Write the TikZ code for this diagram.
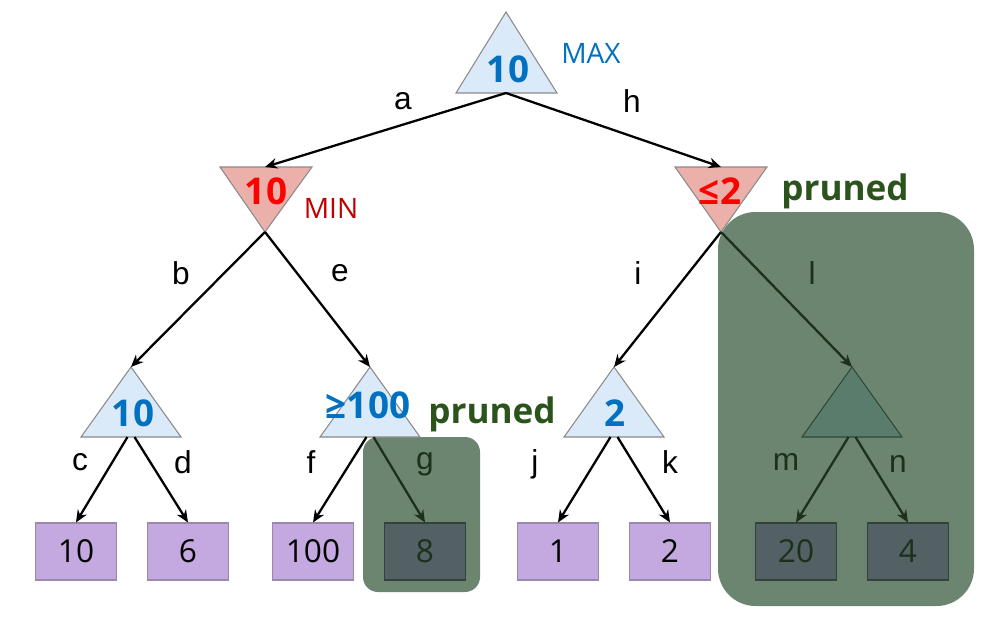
\documentclass[tikz,border=0pt]{standalone}
\usepackage{fontspec}
\setmainfont{Liberation Sans}
\newfontfamily\valfont{Open Sans}
\usepackage{xcolor}
\usetikzlibrary{arrows.meta}

\definecolor{maxfill}{HTML}{DBEAF9}
\definecolor{minfill}{HTML}{EBB0AA}
\definecolor{trigray}{HTML}{8A8A8A}
\definecolor{valblue}{HTML}{0070C0}
\definecolor{valred}{HTML}{FF0000}
\definecolor{mindark}{HTML}{C00000}
\definecolor{leaffill}{HTML}{C4A8E0}
\definecolor{leafgray}{HTML}{9A8AAA}
\definecolor{prunefill}{HTML}{6B8570}
\definecolor{prunetri}{HTML}{5A7C6C}
\definecolor{pruneleaf}{HTML}{536064}
\definecolor{prunedark}{HTML}{1C301C}
\definecolor{prunetext}{HTML}{2B531C}

\tikzset{
  maxtri/.style={draw=trigray, fill=maxfill, line width=0.6pt},
  mintri/.style={draw=trigray, fill=minfill, line width=0.6pt},
  deadtri/.style={draw=prunedark!70!prunetri, fill=prunetri, line width=0.6pt},
  val/.style={font=\valfont\bfseries\fontsize{21}{21}\selectfont, text=valblue},
  minval/.style={val, text=valred},
  leaf/.style={draw=leafgray, fill=leaffill, line width=0.6pt, minimum width=1.62cm,
    minimum height=1.14cm, inner sep=0pt, font=\valfont\fontsize{18}{18}\selectfont},
  deadleaf/.style={leaf, draw=prunedark!60!pruneleaf, fill=pruneleaf, text=prunedark},
  edge/.style={-{Stealth[length=7pt, width=6pt]}, line width=1.3pt},
  deadedge/.style={edge, draw=prunedark},
  lab/.style={font=\fontsize{18}{18}\selectfont},
  deadlab/.style={lab, text=prunedark},
  tag/.style={font=\valfont\fontsize{16}{16}\selectfont},
  prunebox/.style={fill=prunefill},
  prunelab/.style={font=\valfont\bfseries\fontsize{20}{20}\selectfont, text=prunetext}
}

\begin{document}
\begin{tikzpicture}[x=0.02cm, y=-0.02cm]
    \useasboundingbox (0,0) rectangle (1000,625);

    % pruned regions
    \fill[prunebox, rounded corners=0.3cm] (363,437) rectangle (480,592);
    \fill[prunebox, rounded corners=0.75cm] (718,212) rectangle (974,606);

    % root (max)
    \draw[maxtri] (456,93) -- (506,12) -- (557,93) -- cycle;
    \coordinate (r-top) at (506,12);
    \coordinate (r-bot) at (506,93);
    \node[val] (r-val) at (508,69) {10};
    \node[tag, text=valblue] (r-tag) at (591,53) {MAX};

    % min level
    \draw[mintri] (220,167) -- (312,167) -- (265,232) -- cycle;
    \coordinate (m1-top) at (265,167);
    \coordinate (m1-bot) at (265,232);
    \node[minval] (m1-val) at (266,191) {10};
    \node[tag, text=mindark] (m1-tag) at (331,208) {MIN};

    \draw[mintri] (675,167) -- (767,167) -- (721,232) -- cycle;
    \coordinate (m2-top) at (721,167);
    \coordinate (m2-bot) at (721,232);
    \node[minval] (m2-val) at (720,191) {≤2};
    \node[prunelab] (p1) at (845,191) {pruned};

    % max level
    \draw[maxtri] (81,437) -- (131,367) -- (181,437) -- cycle;
    \coordinate (x1-top) at (131,367);
    \coordinate (x1-bot) at (131,437);
    \node[val] (x1-val) at (133,413) {10};

    \draw[maxtri] (320,437) -- (370,367) -- (420,437) -- cycle;
    \coordinate (x2-top) at (370,367);
    \coordinate (x2-bot) at (370,437);
    \node[val] (x2-val) at (368,405) {≥100};
    \node[prunelab] (p2) at (492,414) {pruned};

    \draw[maxtri] (564,437) -- (614,367) -- (664,437) -- cycle;
    \coordinate (x3-top) at (614,367);
    \coordinate (x3-bot) at (614,437);
    \node[val] (x3-val) at (615,413) {2};

    \draw[deadtri] (802,437) -- (852,367) -- (902,437) -- cycle;
    \coordinate (x4-top) at (852,367);
    \coordinate (x4-bot) at (852,437);

    % leaves
    \foreach \n/\x/\v in {c/76/10, d/188/6, f/313/100, j/558/1, k/670/2}
        \node[leaf] (\n) at (\x,551.5) {\v};
    \node[deadleaf] (g) at (425,551.5) {8};
    \node[deadleaf] (m) at (796,551.5) {20};
    \node[deadleaf] (n) at (908,551.5) {4};

    % connectors
    \draw[edge] (r-bot) -- (m1-top);
    \draw[edge] (r-bot) -- (m2-top);
    \draw[edge] (m1-bot) -- (x1-top);
    \draw[edge] (m1-bot) -- (x2-top);
    \draw[edge] (m2-bot) -- (x3-top);
    \draw[deadedge] (m2-bot) -- (x4-top);
    \draw[edge] ([xshift=-2pt]x1-bot) -- (c.north);
    \draw[edge] ([xshift=2pt]x1-bot) -- (d.north);
    \draw[edge] ([xshift=-2pt]x2-bot) -- (f.north);
    \draw[deadedge] ([xshift=2pt]x2-bot) -- (g.north);
    \draw[edge] ([xshift=-2pt]x3-bot) -- (j.north);
    \draw[edge] ([xshift=2pt]x3-bot) -- (k.north);
    \draw[deadedge] ([xshift=-2pt]x4-bot) -- (m.north);
    \draw[deadedge] ([xshift=2pt]x4-bot) -- (n.north);

    % edge labels
    \node[lab] (la) at (403,101) {a};
    \node[lab] (lh) at (632,101) {h};
    \node[lab] (lb) at (181,273) {b};
    \node[lab] (le) at (340,273) {e};
    \node[lab] (li) at (638,273) {i};
    \node[deadlab] (ll) at (812,273) {l};
    \node[lab] (lc) at (80,462) {c};
    \node[lab] (ld) at (183,462) {d};
    \node[lab] (lf) at (311,462) {f};
    \node[deadlab] (lg) at (425,464) {g};
    \node[lab] (lj) at (535,464) {j};
    \node[lab] (lk) at (670,462) {k};
    \node[deadlab] (lm) at (786,462) {m};
    \node[deadlab] (ln) at (898,464) {n};
\end{tikzpicture}
\end{document}
